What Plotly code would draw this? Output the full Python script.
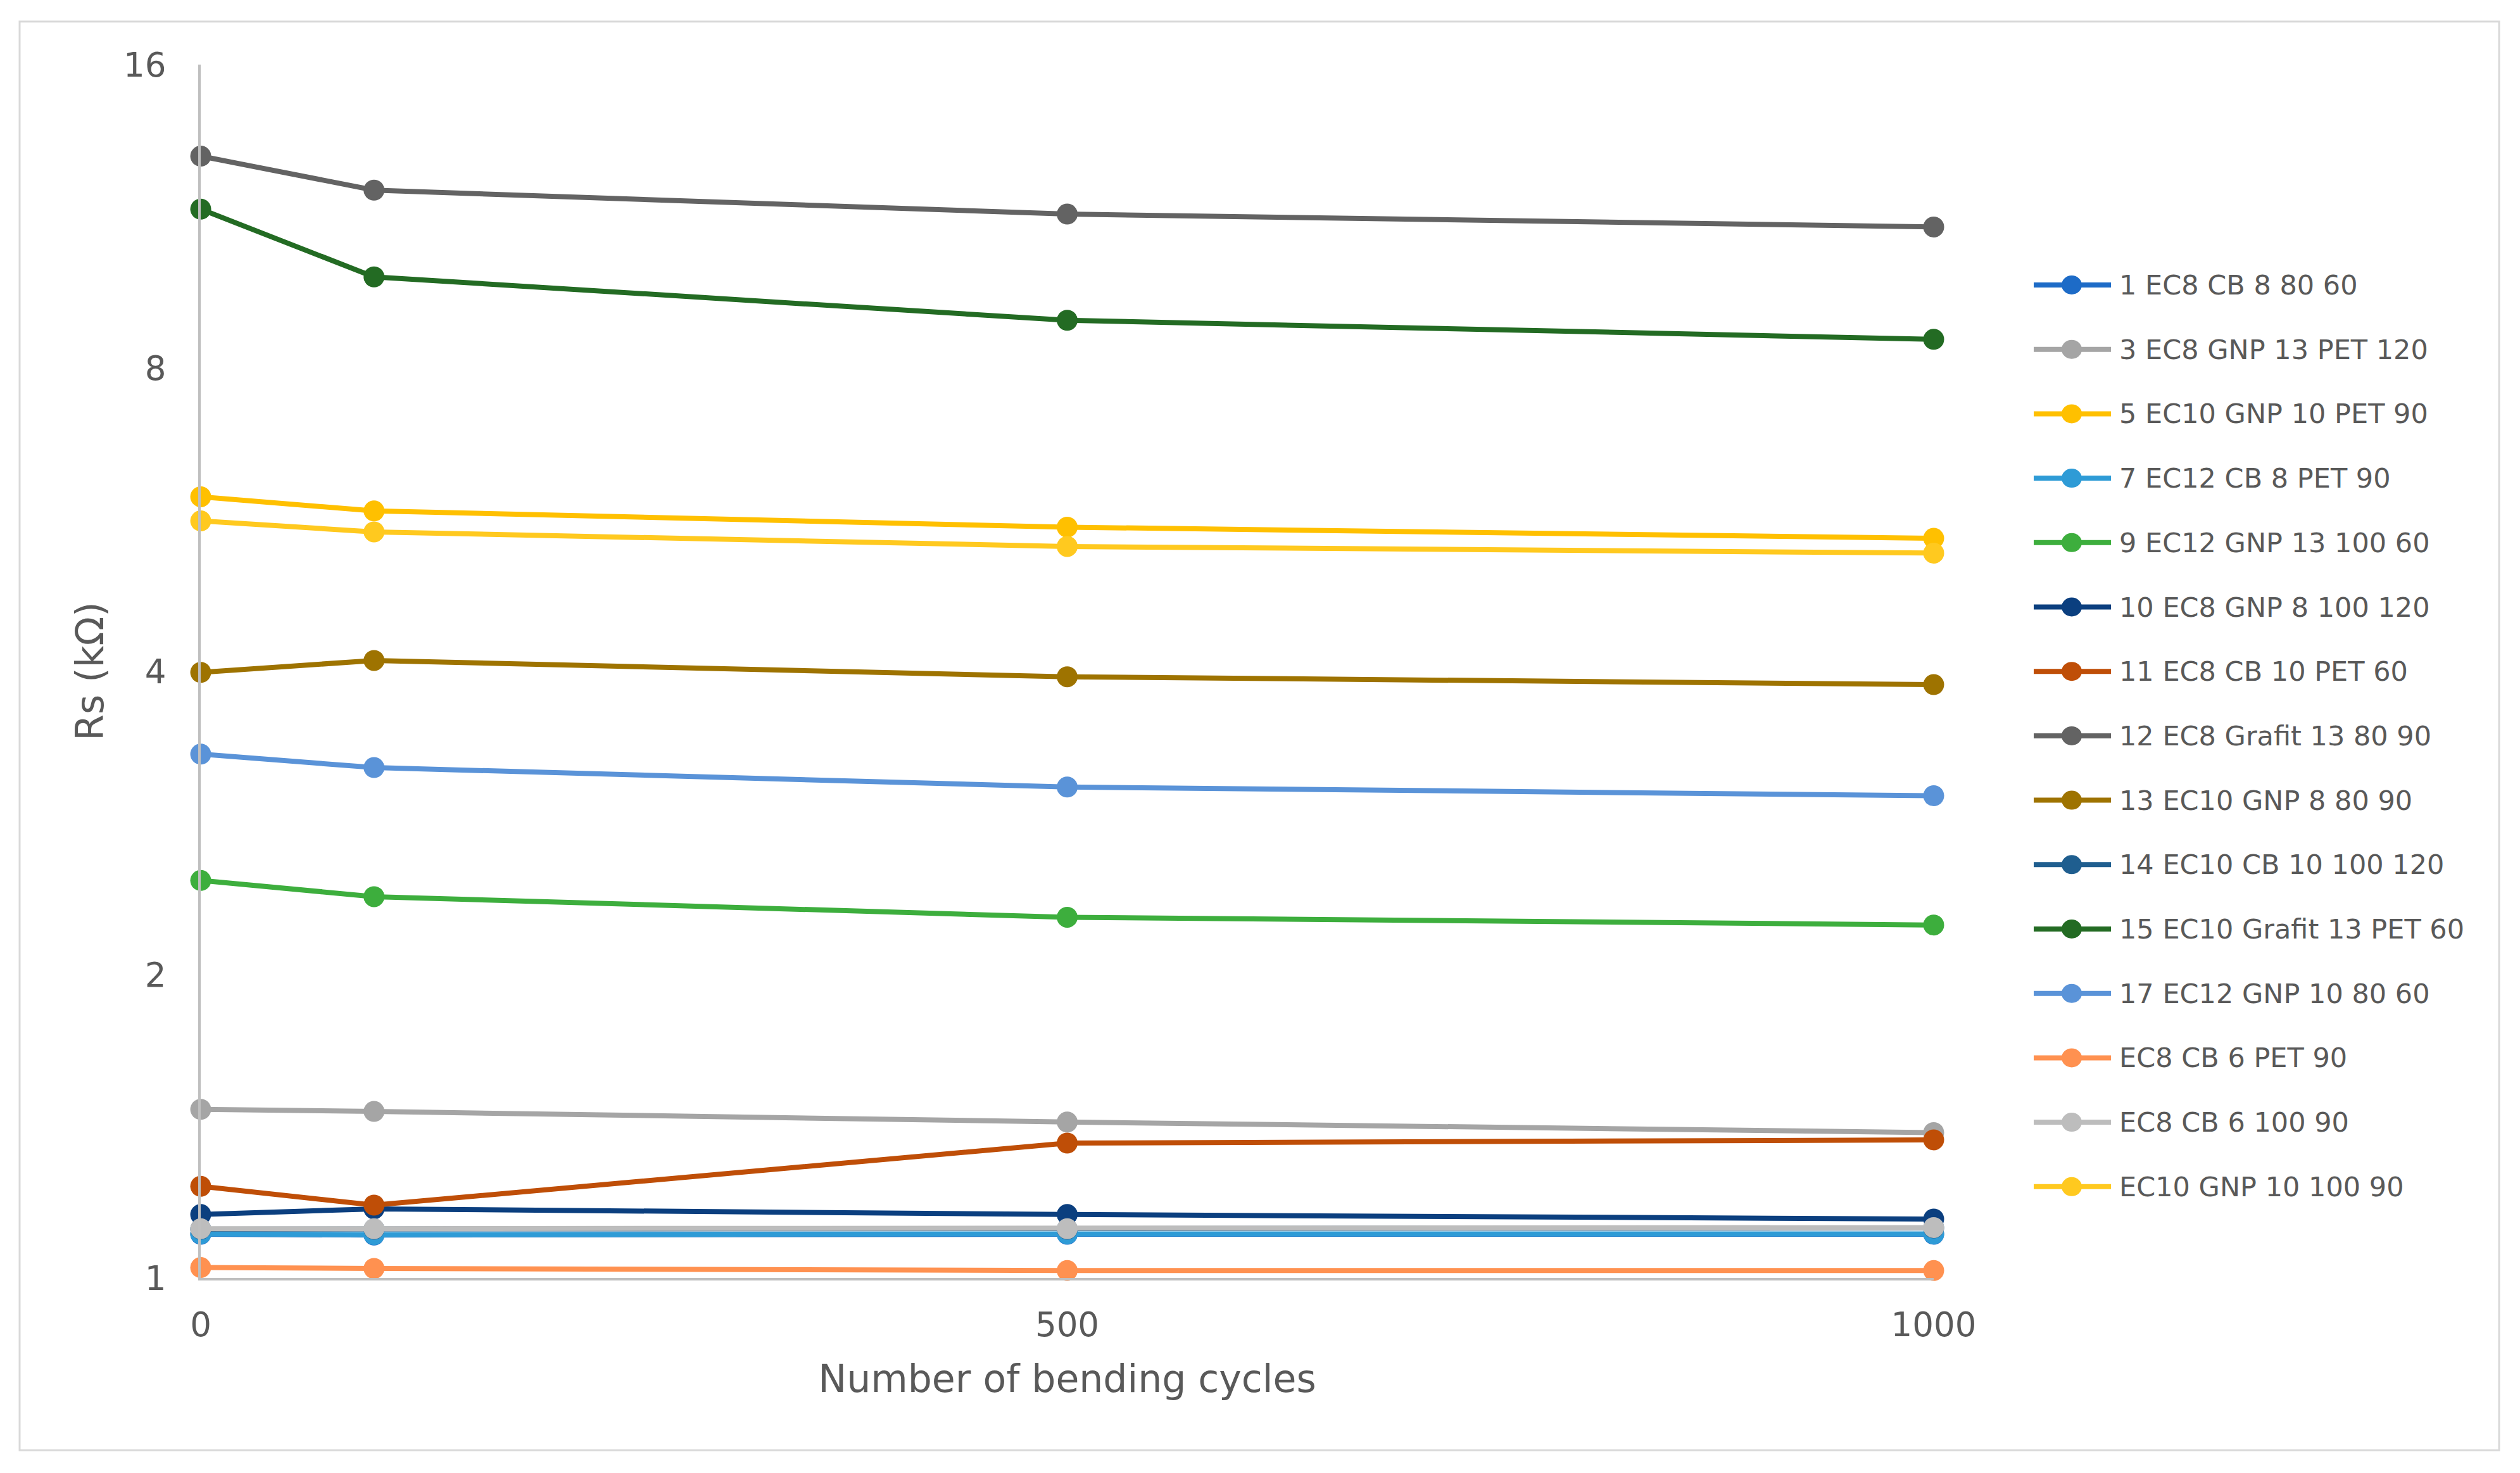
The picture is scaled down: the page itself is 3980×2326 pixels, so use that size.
import plotly.graph_objects as go

# ---------------- data ----------------
cycles = [0, 100, 500, 1000]

series_names = [
    "1 EC8 CB 8 80 60",
    "3 EC8 GNP 13 PET 120",
    "5 EC10 GNP 10 PET 90",
    "7 EC12 CB 8 PET 90",
    "9 EC12 GNP 13 100 60",
    "10 EC8 GNP 8 100 120",
    "11 EC8 CB 10 PET 60",
    "12 EC8 Grafit 13 80 90",
    "13 EC10 GNP 8 80 90",
    "14 EC10 CB 10 100 120",
    "15 EC10 Grafit 13 PET 60",
    "17 EC12 GNP 10 80 60",
    "EC8 CB 6 PET 90",
    "EC8 CB 6 100 90",
    "EC10 GNP 10 100 90",
]

s1 = [1.105, 1.103, 1.105, 1.105]
s3 = [1.470, 1.463, 1.428, 1.394]
s5 = [5.96, 5.77, 5.56, 5.42]
s7 = [1.106, 1.104, 1.106, 1.106]
s9 = [2.48, 2.39, 2.28, 2.24]
s10 = [1.156, 1.171, 1.156, 1.144]
s11 = [1.233, 1.181, 1.361, 1.371]
s12 = [12.98, 12.01, 11.37, 11.04]
s13 = [3.99, 4.10, 3.95, 3.88]
s14 = [1.118, 1.118, 1.118, 1.121]
s15 = [11.50, 9.85, 8.92, 8.54]
s17 = [3.31, 3.21, 3.07, 3.01]
s_cb6_pet = [1.024, 1.022, 1.017, 1.017]
s_cb6_100 = [1.119, 1.119, 1.119, 1.122]
s_gnp10_100 = [5.64, 5.50, 5.32, 5.24]

series_values = [s1, s3, s5, s7, s9, s10, s11, s12, s13, s14, s15, s17,
                 s_cb6_pet, s_cb6_100, s_gnp10_100]

colors = [
    "#1D6BC7", "#A5A5A5", "#FFC000", "#2E9BD6", "#3DAE3D",
    "#0B3F7F", "#BF4E07", "#636363", "#9E7300", "#1F5E8F",
    "#236B23", "#5A93D8", "#FF9150", "#BDBDBD", "#FFC91F",
]

y_ticks = [1, 2, 4, 8, 16]
x_ticks = [0, 500, 1000]

# ---------------- layout geometry ----------------
# page body has an 8px default margin; work in page coordinates and shift
OFF = 8
W, H = 3980 - 2 * OFF, 2326 - 2 * OFF
L, R, T, B = 317 - OFF, 3054 - OFF, 102 - OFF, 2018 - OFF
FONT = "DejaVu Sans"
TXT = "#595959"
AXC = "#BFBFBF"


def px(xp):
    return (xp - OFF - L) / (R - L)


def py(yp):
    return (B - (yp - OFF)) / (B - T)


fig = go.Figure()
for name, vals, col in zip(series_names, series_values, colors):
    fig.add_trace(go.Scatter(
        x=cycles, y=vals, name=name, mode="lines+markers",
        line=dict(color=col, width=8),
        marker=dict(color=col, size=33, line=dict(width=0)),
        cliponaxis=False, showlegend=False,
    ))

shapes = []
annotations = []
# outer chart border
shapes.append(dict(type="rect", xref="paper", yref="paper",
                   x0=px(31), x1=px(3947), y0=py(2290), y1=py(34),
                   line=dict(color="#D9D9D9", width=3), layer="below"))

# custom legend
leg_y0, leg_dy = 450, 101.7
for i, (name, col) in enumerate(zip(series_names, colors)):
    yy = leg_y0 + i * leg_dy
    shapes.append(dict(type="line", xref="paper", yref="paper",
                       x0=px(3212), x1=px(3334), y0=py(yy), y1=py(yy),
                       line=dict(color=col, width=8)))
    shapes.append(dict(type="circle", xref="paper", yref="paper",
                       xsizemode="pixel", ysizemode="pixel",
                       xanchor=px(3272), yanchor=py(yy),
                       x0=-16, x1=16, y0=-15, y1=15,
                       fillcolor=col, line=dict(width=0)))
    annotations.append(dict(xref="paper", yref="paper", x=px(3345), y=py(yy),
                            xanchor="left", yanchor="middle", showarrow=False,
                            text=name, font=dict(family=FONT, size=43, color=TXT)))

fig.update_layout(
    width=W, height=H,
    margin=dict(l=L, r=W - R, t=T, b=H - B, autoexpand=False),
    paper_bgcolor="white", plot_bgcolor="white",
    font=dict(family=FONT, color=TXT),
    showlegend=False,
    shapes=shapes,
    annotations=annotations,
    xaxis=dict(
        range=[0, 1000], tickvals=x_ticks, ticktext=[str(v) for v in x_ticks],
        showgrid=False, zeroline=False, showline=True, linecolor=AXC, linewidth=4,
        ticks="", ticklabelstandoff=24,
        tickfont=dict(family=FONT, size=53, color=TXT),
        title=dict(text="Number of bending cycles", standoff=36,
                   font=dict(family=FONT, size=60, color=TXT)),
    ),
    yaxis=dict(
        type="log", range=[0, 1.2041199826559248],
        tickvals=y_ticks, ticktext=[str(v) for v in y_ticks],
        showgrid=False, zeroline=False, showline=True, linecolor=AXC, linewidth=4,
        ticks="", ticklabelstandoff=40,
        tickfont=dict(family=FONT, size=53, color=TXT),
        title=dict(text="Rs (kΩ)", standoff=13,
                   font=dict(family=FONT, size=60, color=TXT)),
    ),
)

fig.write_html("out.html")
